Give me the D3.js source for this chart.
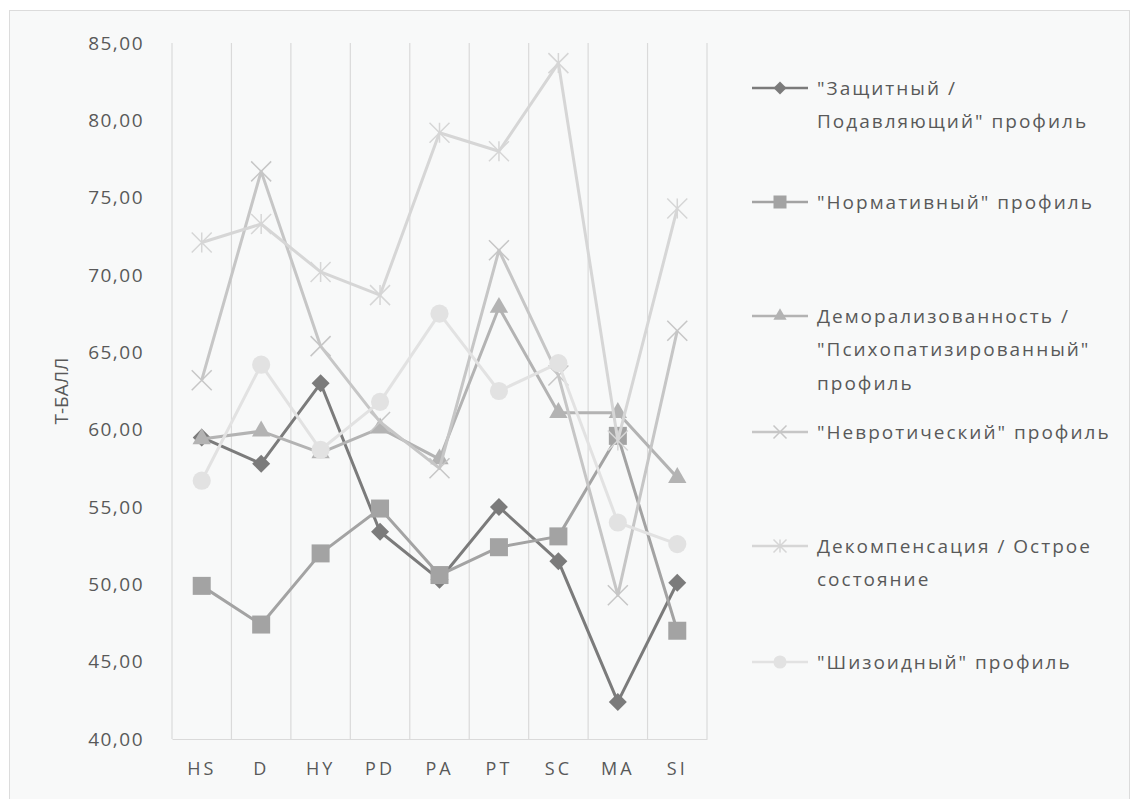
<!DOCTYPE html>
<html>
<head>
<meta charset="utf-8">
<script src="https://cdn.jsdelivr.net/npm/d3@7"></script>
<style>
	body { margin: 0; background: #ffffff; }
	svg text { font-family: 'Open Sans', 'Noto Sans', sans-serif; fill: #595959; }
</style>
</head>
<body>
<div id="chart_container"></div>
<script>
// Data
const categories = ['HS', 'D', 'HY', 'PD', 'PA', 'PT', 'SC', 'MA', 'SI']
const seriesNames = [
	'"Защитный /\nПодавляющий" профиль',
	'"Нормативный" профиль',
	'Деморализованность /\n"Психопатизированный"\nпрофиль',
	'"Невротический" профиль',
	'Декомпенсация / Острое\nсостояние',
	'"Шизоидный" профиль'
]
const defensive = [59.5, 57.8, 63.0, 53.4, 50.3, 55.0, 51.5, 42.4, 50.1]
const normative = [49.9, 47.4, 52.0, 54.9, 50.6, 52.4, 53.1, 59.6, 47.0]
const demoralized = [59.4, 59.9, 58.5, 60.1, 58.1, 67.9, 61.1, 61.1, 56.9]
const neurotic = [63.2, 76.7, 65.4, 60.5, 57.5, 71.6, 63.5, 49.3, 66.4]
const decompensation = [72.1, 73.3, 70.2, 68.7, 79.2, 78.0, 83.7, 59.3, 74.3]
const schizoid = [56.7, 64.2, 58.7, 61.8, 67.5, 62.5, 64.3, 54.0, 52.6]
const yTicks = [40, 45, 50, 55, 60, 65, 70, 75, 80, 85]
const yTitle = 'Т-БАЛЛ'

const allSeries = [defensive, normative, demoralized, neurotic, decompensation, schizoid]
const seriesColors = ['#7b7b7b', '#a3a3a3', '#b3b3b3', '#c6c6c6', '#d6d6d6', '#e2e2e2']
const markerTypes = ['diamond', 'square', 'triangle', 'x', 'star', 'circle']

// Chart dimensions
const width = 1137
const height = 799
const plotLeft = 172
const plotRight = 707
const plotTop = 43
const plotBottom = 739

let svg = d3.select('#chart_container')
	.append('svg')
	.attr('width', width)
	.attr('height', height)

// Chart area with light border
svg.append('rect')
	.attr('x', 9.5)
	.attr('y', 10.5)
	.attr('width', 1120)
	.attr('height', 800)
	.attr('fill', '#f8f9f9')
	.attr('stroke', '#dcdcdc')

let scaleX = d3.scaleBand()
	.domain(categories)
	.range([plotLeft, plotRight])
let scaleY = d3.scaleLinear()
	.domain([40, 85])
	.range([plotBottom, plotTop])

// Vertical gridlines at category boundaries
let bounds = categories.map((c) => scaleX(c)).concat([plotRight])
svg.selectAll('.grid')
	.data(bounds)
	.enter()
	.append('line')
	.attr('x1', (d) => d)
	.attr('x2', (d) => d)
	.attr('y1', plotTop)
	.attr('y2', plotBottom)
	.style('stroke', '#dadada')
	.style('stroke-width', 1.2)

// X axis
let xAxis = svg.append('g')
	.attr('transform', 'translate(0,' + plotBottom + ')')
	.call(d3.axisBottom(scaleX).tickSize(0).tickPadding(23))
xAxis.select('.domain').style('stroke', '#dadada').style('stroke-width', 1.2)
xAxis.selectAll('text')
	.style('font-size', '18px')
	.style('letter-spacing', '3px')
	.style('fill', '#595959')

// Y axis
let fmt = (v) => d3.format('.2f')(v).replace('.', ',')
let yAxis = svg.append('g')
	.attr('transform', 'translate(' + plotLeft + ',0)')
	.call(d3.axisLeft(scaleY).tickValues(yTicks).tickFormat(fmt).tickSize(0).tickPadding(28))
yAxis.select('.domain').remove()
yAxis.selectAll('text')
	.style('font-size', '19px')
	.style('letter-spacing', '1.5px')
	.style('fill', '#595959')

svg.append('text')
	.attr('transform', 'translate(68,' + ((plotTop + plotBottom) / 2) + ') rotate(-90)')
	.attr('text-anchor', 'middle')
	.style('font-size', '19px')
	.text(yTitle)

// Marker paths
function markerPath(type, s) {
	if (type === 'diamond') return d3.symbol(d3.symbolSquare, s * s * 0.5)()
	if (type === 'square') return d3.symbol(d3.symbolSquare, s * s)()
	if (type === 'triangle') return d3.symbol(d3.symbolTriangle, s * s * 0.45)()
	if (type === 'circle') return d3.symbol(d3.symbolCircle, s * s * 0.8)()
	let h = s / 2
	let p = 'M' + (-h) + ',' + (-h) + 'L' + h + ',' + h + 'M' + (-h) + ',' + h + 'L' + h + ',' + (-h)
	if (type === 'star') p += 'M0,' + (-h) + 'L0,' + h
	return p
}
function drawMarker(g, type, color, s) {
	let m = g.append('path')
		.attr('d', markerPath(type, s))
	if (type === 'x' || type === 'star') {
		m.attr('fill', 'none').attr('stroke', color).attr('stroke-width', 1.5)
	} else {
		m.attr('fill', color)
	}
	if (type === 'diamond') m.attr('transform', 'rotate(45)')
	return m
}

let cx = (i) => scaleX(categories[i]) + scaleX.bandwidth() / 2
let line = d3.line()
	.x((d, i) => cx(i))
	.y((d) => scaleY(d))

// Series lines and markers
allSeries.forEach((values, k) => {
	let g = svg.append('g').attr('class', 'series s' + k)
	g.append('path')
		.datum(values)
		.attr('d', line)
		.attr('fill', 'none')
		.style('stroke', seriesColors[k])
		.style('stroke-width', 3)
		.style('stroke-linejoin', 'round')
	values.forEach((v, i) => {
		let mg = g.append('g').attr('transform', 'translate(' + cx(i) + ',' + scaleY(v) + ')')
		drawMarker(mg, markerTypes[k], seriesColors[k], k === 3 || k === 4 ? 20 : 18)
	})
})

// Legend
let legendY = [88, 202, 316, 432, 546, 662]
seriesNames.forEach((name, k) => {
	let g = svg.append('g').attr('transform', 'translate(752,' + legendY[k] + ')')
	g.append('line')
		.attr('x1', 0).attr('x2', 56)
		.attr('y1', 0).attr('y2', 0)
		.style('stroke', seriesColors[k])
		.style('stroke-width', 2.5)
	let mg = g.append('g').attr('transform', 'translate(28,0)')
	drawMarker(mg, markerTypes[k], seriesColors[k], 13)
	let t = g.append('text')
		.attr('x', 65)
		.attr('y', 0)
		.style('font-size', '19px')
		.style('letter-spacing', '2px')
	name.split('\n').forEach((ln, j) => {
		t.append('tspan')
			.attr('x', 65)
			.attr('y', j * 33.5)
			.attr('dy', '0.35em')
			.text(ln)
	})
})
</script>
</body>
</html>
